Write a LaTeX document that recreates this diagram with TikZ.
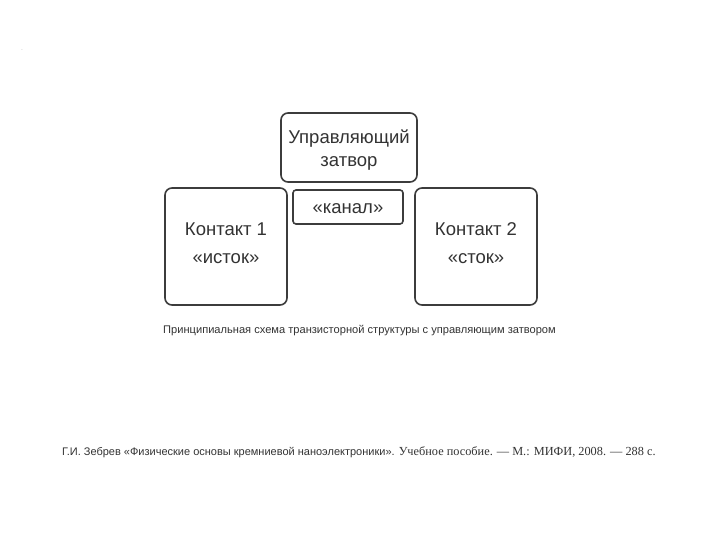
\documentclass[tikz,border=0pt]{standalone}
\usepackage{fontspec}
\setmainfont{Liberation Serif}
\setsansfont{Liberation Sans}
\definecolor{inkgray}{HTML}{333333}
\definecolor{framegray}{HTML}{3C3C3C}
\begin{document}
\begin{tikzpicture}[x=1pt,y=-1pt]
            \tikzstyle{part} = [draw=framegray, line width=1.6pt, rounded corners=7pt, inner sep=0pt]
            \tikzstyle{word} = [text=inkgray, font=\sffamily\fontsize{18.5}{28}\selectfont, align=center, inner sep=0pt]
            \tikzstyle{caption} = [text=inkgray, inner sep=0pt, anchor=west]
            \useasboundingbox[fill=white] (0,0) rectangle (720,540);
            \node[font=\sffamily\tiny, text=gray] (dot) at (22,50) {.};
            % gate on top, channel under it
            \node[part, minimum width=136pt, minimum height=69pt] (gate) at (349,147.5) {};
            \node[word, font=\sffamily\fontsize{18.5}{23}\selectfont] (gatetext) at (349,150.5) {Управляющий\\затвор};
            \node[part, minimum width=110pt, minimum height=34pt, rounded corners=3pt] (channel) at (348,207) {};
            \node[word] (channeltext) at (348,209) {«канал»};
            % contacts left and right
            \node[part, minimum width=122pt, minimum height=117pt] (source) at (226,246.5) {};
            \node[word] (sourcetext) at (226,243.5) {Контакт 1\\«исток»};
            \node[part, minimum width=122pt, minimum height=117pt] (drain) at (476,246.5) {};
            \node[word] (draintext) at (476,243.5) {Контакт 2\\«сток»};
            \node[caption, font=\sffamily\fontsize{11.1}{13}\selectfont] (title) at (163,331) {Принципиальная схема транзисторной структуры с управляющим затвором};
            \node[caption, font=\sffamily\fontsize{11}{13}\selectfont] (ref) at (62,452) {Г.И. Зебрев «Физические основы кремниевой наноэлектроники». {\rmfamily\fontsize{12.3}{14}\selectfont Учебное пособие. — М.: МИФИ, 2008. — 288 с.}};
        \end{tikzpicture}
\end{document}
